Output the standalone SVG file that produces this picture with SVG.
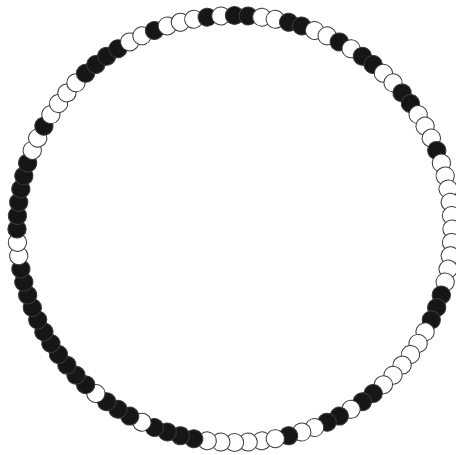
<svg xmlns="http://www.w3.org/2000/svg" width="456" height="455" viewBox="0 0 456 455">
<style>
circle{stroke:#3a3a3a;stroke-width:1}
.w{fill:#ffffff}
.b{fill:#161616}
</style>
<rect width="456" height="455" fill="#ffffff"/>
<g id="ring" transform="translate(234.5,229) scale(1.0187,1)">
<g id="n1"><circle class="w" r="9" cy="-213.5" transform="rotate(-187.2)"/></g>
<g id="n2"><circle class="w" r="9" cy="-213.5" transform="rotate(-183.6)"/></g>
<g id="n3"><circle class="w" r="9" cy="-213.5" transform="rotate(-180)"/></g>
<g id="n4"><circle class="w" r="9" cy="-213.5" transform="rotate(-176.4)"/></g>
<g id="n5"><circle class="w" r="9" cy="-213.5" transform="rotate(-172.8)"/></g>
<g id="n6"><circle class="b" r="9" cy="-213.5" transform="rotate(-169.2)"/></g>
<g id="n7"><circle class="b" r="9" cy="-213.5" transform="rotate(-165.6)"/></g>
<g id="n8"><circle class="b" r="9" cy="-213.5" transform="rotate(-162)"/></g>
<g id="n9"><circle class="b" r="9" cy="-213.5" transform="rotate(-158.4)"/></g>
<g id="n10"><circle class="w" r="9" cy="-213.5" transform="rotate(-154.8)"/></g>
<g id="n11"><circle class="b" r="9" cy="-213.5" transform="rotate(-151.2)"/></g>
<g id="n12"><circle class="b" r="9" cy="-213.5" transform="rotate(-147.6)"/></g>
<g id="n13"><circle class="b" r="9" cy="-213.5" transform="rotate(-144)"/></g>
<g id="n14"><circle class="w" r="9" cy="-213.5" transform="rotate(-140.4)"/></g>
<g id="n15"><circle class="b" r="9" cy="-213.5" transform="rotate(-136.8)"/></g>
<g id="n16"><circle class="b" r="9" cy="-213.5" transform="rotate(-133.2)"/></g>
<g id="n17"><circle class="b" r="9" cy="-213.5" transform="rotate(-129.6)"/></g>
<g id="n18"><circle class="b" r="9" cy="-213.5" transform="rotate(-126)"/></g>
<g id="n19"><circle class="b" r="9" cy="-213.5" transform="rotate(-122.4)"/></g>
<g id="n20"><circle class="b" r="9" cy="-213.5" transform="rotate(-118.8)"/></g>
<g id="n21"><circle class="b" r="9" cy="-213.5" transform="rotate(-115.2)"/></g>
<g id="n22"><circle class="b" r="9" cy="-213.5" transform="rotate(-111.6)"/></g>
<g id="n23"><circle class="b" r="9" cy="-213.5" transform="rotate(-108)"/></g>
<g id="n24"><circle class="b" r="9" cy="-213.5" transform="rotate(-104.4)"/></g>
<g id="n25"><circle class="b" r="9" cy="-213.5" transform="rotate(-100.8)"/></g>
<g id="n26"><circle class="w" r="9" cy="-213.5" transform="rotate(-97.2)"/></g>
<g id="n27"><circle class="w" r="9" cy="-213.5" transform="rotate(-93.6)"/></g>
<g id="n28"><circle class="b" r="9" cy="-213.5" transform="rotate(-90)"/></g>
<g id="n29"><circle class="b" r="9" cy="-213.5" transform="rotate(-86.4)"/></g>
<g id="n30"><circle class="b" r="9" cy="-213.5" transform="rotate(-82.8)"/></g>
<g id="n31"><circle class="b" r="9" cy="-213.5" transform="rotate(-79.2)"/></g>
<g id="n32"><circle class="b" r="9" cy="-213.5" transform="rotate(-75.6)"/></g>
<g id="n33"><circle class="b" r="9" cy="-213.5" transform="rotate(-72)"/></g>
<g id="n34"><circle class="w" r="9" cy="-213.5" transform="rotate(-68.4)"/></g>
<g id="n35"><circle class="w" r="9" cy="-213.5" transform="rotate(-64.8)"/></g>
<g id="n36"><circle class="b" r="9" cy="-213.5" transform="rotate(-61.2)"/></g>
<g id="n37"><circle class="w" r="9" cy="-213.5" transform="rotate(-57.6)"/></g>
<g id="n38"><circle class="w" r="9" cy="-213.5" transform="rotate(-54)"/></g>
<g id="n39"><circle class="w" r="9" cy="-213.5" transform="rotate(-50.4)"/></g>
<g id="n40"><circle class="w" r="9" cy="-213.5" transform="rotate(-46.8)"/></g>
<g id="n41"><circle class="b" r="9" cy="-213.5" transform="rotate(-43.2)"/></g>
<g id="n42"><circle class="b" r="9" cy="-213.5" transform="rotate(-39.6)"/></g>
<g id="n43"><circle class="b" r="9" cy="-213.5" transform="rotate(-36)"/></g>
<g id="n44"><circle class="b" r="9" cy="-213.5" transform="rotate(-32.4)"/></g>
<g id="n45"><circle class="w" r="9" cy="-213.5" transform="rotate(-28.8)"/></g>
<g id="n46"><circle class="w" r="9" cy="-213.5" transform="rotate(-25.2)"/></g>
<g id="n47"><circle class="b" r="9" cy="-213.5" transform="rotate(-21.6)"/></g>
<g id="n48"><circle class="w" r="9" cy="-213.5" transform="rotate(-18)"/></g>
<g id="n49"><circle class="w" r="9" cy="-213.5" transform="rotate(-14.4)"/></g>
<g id="n50"><circle class="w" r="9" cy="-213.5" transform="rotate(-10.8)"/></g>
<g id="n51"><circle class="b" r="9" cy="-213.5" transform="rotate(-7.2)"/></g>
<g id="n52"><circle class="w" r="9" cy="-213.5" transform="rotate(-3.6)"/></g>
<g id="n53"><circle class="b" r="9" cy="-213.5" transform="rotate(0)"/></g>
<g id="n54"><circle class="b" r="9" cy="-213.5" transform="rotate(3.6)"/></g>
<g id="n55"><circle class="w" r="9" cy="-213.5" transform="rotate(7.2)"/></g>
<g id="n56"><circle class="w" r="9" cy="-213.5" transform="rotate(10.8)"/></g>
<g id="n57"><circle class="b" r="9" cy="-213.5" transform="rotate(14.4)"/></g>
<g id="n58"><circle class="b" r="9" cy="-213.5" transform="rotate(18)"/></g>
<g id="n59"><circle class="w" r="9" cy="-213.5" transform="rotate(21.6)"/></g>
<g id="n60"><circle class="w" r="9" cy="-213.5" transform="rotate(25.2)"/></g>
<g id="n61"><circle class="b" r="9" cy="-213.5" transform="rotate(28.8)"/></g>
<g id="n62"><circle class="w" r="9" cy="-213.5" transform="rotate(32.4)"/></g>
<g id="n63"><circle class="b" r="9" cy="-213.5" transform="rotate(36)"/></g>
<g id="n64"><circle class="b" r="9" cy="-213.5" transform="rotate(39.6)"/></g>
<g id="n65"><circle class="w" r="9" cy="-213.5" transform="rotate(43.2)"/></g>
<g id="n66"><circle class="w" r="9" cy="-213.5" transform="rotate(46.8)"/></g>
<g id="n67"><circle class="b" r="9" cy="-213.5" transform="rotate(50.4)"/></g>
<g id="n68"><circle class="b" r="9" cy="-213.5" transform="rotate(54)"/></g>
<g id="n69"><circle class="w" r="9" cy="-213.5" transform="rotate(57.6)"/></g>
<g id="n70"><circle class="w" r="9" cy="-213.5" transform="rotate(61.2)"/></g>
<g id="n71"><circle class="w" r="9" cy="-213.5" transform="rotate(64.8)"/></g>
<g id="n72"><circle class="b" r="9" cy="-213.5" transform="rotate(68.4)"/></g>
<g id="n73"><circle class="w" r="9" cy="-213.5" transform="rotate(72)"/></g>
<g id="n74"><circle class="w" r="9" cy="-213.5" transform="rotate(75.6)"/></g>
<g id="n75"><circle class="w" r="9" cy="-213.5" transform="rotate(79.2)"/></g>
<g id="n76"><circle class="w" r="9" cy="-213.5" transform="rotate(82.8)"/></g>
<g id="n77"><circle class="w" r="9" cy="-213.5" transform="rotate(86.4)"/></g>
<g id="n78"><circle class="w" r="9" cy="-213.5" transform="rotate(90)"/></g>
<g id="n79"><circle class="w" r="9" cy="-213.5" transform="rotate(93.6)"/></g>
<g id="n80"><circle class="w" r="9" cy="-213.5" transform="rotate(97.2)"/></g>
<g id="n81"><circle class="w" r="9" cy="-213.5" transform="rotate(100.8)"/></g>
<g id="n82"><circle class="w" r="9" cy="-213.5" transform="rotate(104.4)"/></g>
<g id="n83"><circle class="b" r="9" cy="-213.5" transform="rotate(108)"/></g>
<g id="n84"><circle class="b" r="9" cy="-213.5" transform="rotate(111.6)"/></g>
<g id="n85"><circle class="b" r="9" cy="-213.5" transform="rotate(115.2)"/></g>
<g id="n86"><circle class="w" r="9" cy="-213.5" transform="rotate(118.8)"/></g>
<g id="n87"><circle class="w" r="9" cy="-213.5" transform="rotate(122.4)"/></g>
<g id="n88"><circle class="w" r="9" cy="-213.5" transform="rotate(126)"/></g>
<g id="n89"><circle class="w" r="9" cy="-213.5" transform="rotate(129.6)"/></g>
<g id="n90"><circle class="w" r="9" cy="-213.5" transform="rotate(133.2)"/></g>
<g id="n91"><circle class="w" r="9" cy="-213.5" transform="rotate(136.8)"/></g>
<g id="n92"><circle class="b" r="9" cy="-213.5" transform="rotate(140.4)"/></g>
<g id="n93"><circle class="b" r="9" cy="-213.5" transform="rotate(144)"/></g>
<g id="n94"><circle class="w" r="9" cy="-213.5" transform="rotate(147.6)"/></g>
<g id="n95"><circle class="b" r="9" cy="-213.5" transform="rotate(151.2)"/></g>
<g id="n96"><circle class="b" r="9" cy="-213.5" transform="rotate(154.8)"/></g>
<g id="n97"><circle class="w" r="9" cy="-213.5" transform="rotate(158.4)"/></g>
<g id="n98"><circle class="w" r="9" cy="-213.5" transform="rotate(162)"/></g>
<g id="n99"><circle class="b" r="9" cy="-213.5" transform="rotate(165.6)"/></g>
<g id="n100"><circle class="w" r="9" cy="-213.5" transform="rotate(169.2)"/></g>
</g>
</svg>
